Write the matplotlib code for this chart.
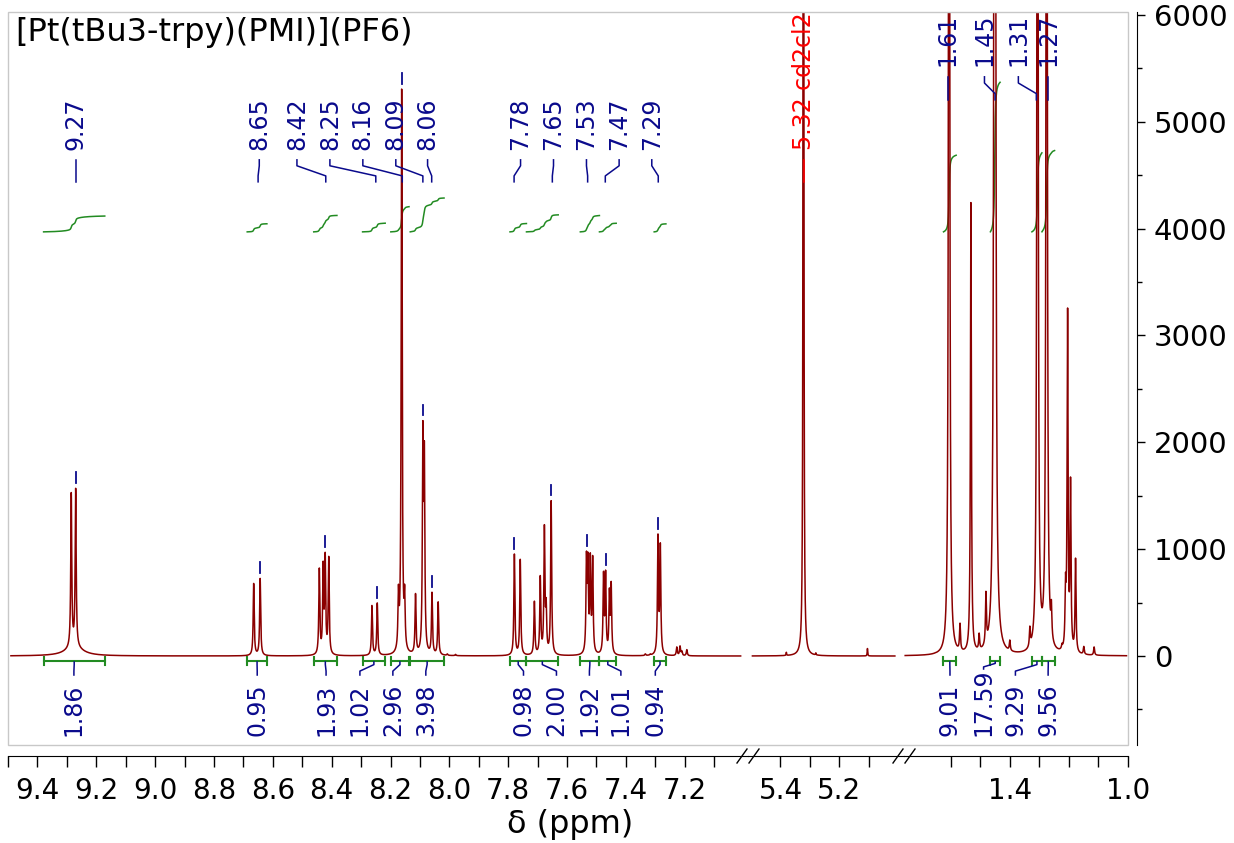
import numpy as np
import matplotlib.pyplot as plt
from matplotlib.lines import Line2D
from matplotlib.patches import Rectangle

# ---------------------------------------------------------------
# peaks: shift (ppm) and apparent height
# ---------------------------------------------------------------
arom_ppm = [9.285, 9.270, 8.665, 8.643, 8.442, 8.429, 8.422, 8.410, 8.263, 8.245,
            8.173, 8.162, 8.152, 8.115, 8.090, 8.085, 8.059, 8.038, 8.007, 7.979,
            7.779, 7.759, 7.711, 7.691, 7.677, 7.671, 7.654,
            7.534, 7.529, 7.521, 7.513, 7.476, 7.469, 7.456, 7.450,
            7.334, 7.317, 7.291, 7.283, 7.227, 7.216, 7.210, 7.193]
arom_height = [1530, 1570, 680, 727, 825, 888, 972, 935, 474, 498,
               670, 5318, 670, 586, 2200, 2010, 598, 508, 20, 15,
               956, 906, 514, 754, 1231, 545, 1455,
               981, 972, 966, 941, 794, 804, 638, 698,
               20, 20, 1143, 1059, 85, 95, 50, 60]

solv_ppm = [5.380, 5.322, 5.280, 5.105]
solv_height = [35, 20000, 30, 70]

alkyl_ppm = [1.654, 1.606, 1.569, 1.532, 1.504, 1.481, 1.451, 1.428, 1.400, 1.332,
             1.306, 1.275, 1.259, 1.223, 1.211, 1.204, 1.194, 1.177, 1.149, 1.114]
alkyl_height = [30, 15000, 308, 4252, 215, 606, 30000, 215, 150, 280,
                15000, 15000, 527, 120, 778, 3265, 1678, 918, 90, 85]

# broad foot under the 9.27 doublet
broad_ppm = [9.275]
broad_height = [80]
broad_hw = [0.035]

# half widths of the lines in each region (ppm)
seg_hw = [0.002, 0.001, 0.0019]

# peak picking labels: value and where the text sits
pick_arom = [9.27, 8.65, 8.42, 8.25, 8.16, 8.09, 8.06, 7.78, 7.65, 7.53, 7.47, 7.29]
pick_arom_text = [9.270, 8.646, 8.518, 8.406, 8.294, 8.182, 8.074,
                  7.758, 7.646, 7.534, 7.423, 7.312]
pick_alkyl = [1.61, 1.45, 1.31, 1.27]
pick_alkyl_text = [1.61, 1.486, 1.371, 1.27]
solvent_pick = 5.32
solvent_name = "5.32 cd2cl2"

# integrals: value, region, text position
int_arom_val = [1.86, 0.95, 1.93, 1.02, 2.96, 3.98, 0.98, 2.00, 1.92, 1.01, 0.94]
int_arom_from = [9.379, 8.687, 8.461, 8.295, 8.199, 8.133, 7.794, 7.738, 7.555, 7.490, 7.304]
int_arom_to = [9.171, 8.620, 8.382, 8.218, 8.137, 8.018, 7.738, 7.630, 7.490, 7.433, 7.264]
int_arom_text = [9.276, 8.653, 8.419, 8.304, 8.192, 8.080, 7.748, 7.636, 7.524, 7.417, 7.300]

int_alkyl_val = [9.01, 17.59, 9.29, 9.56]
int_alkyl_from = [1.625, 1.466, 1.325, 1.291]
int_alkyl_to = [1.582, 1.433, 1.291, 1.248]
int_alkyl_text = [1.603, 1.489, 1.381, 1.270]

title = "[Pt(tBu3-trpy)(PMI)](PF6)"

# ---------------------------------------------------------------
SPEC = '#8b0000'
BLUE = '#0a0a8c'
GREEN = '#228b22'
W, H = 1234, 843


def yv(px):
    # pixel row of the reference -> intensity units (layout helper)
    return (656 - px) / 0.1068


def lor(x, p, h, w):
    return h * w * w / ((x - p) ** 2 + w * w)


def broad(x):
    x = np.asarray(x, float)
    out = np.zeros_like(x)
    for p, h, w in zip(broad_ppm, broad_height, broad_hw):
        out += lor(x, p, h, w)
    return out


def spectrum(ppm, height, hw, x):
    p = np.array(ppm, float)
    h = np.array(height, float)
    A = hw ** 2 / ((p[:, None] - p[None, :]) ** 2 + hw ** 2)
    amp = np.clip(np.linalg.solve(A, h - broad(p)), 0, None)
    return lor(x[:, None], p[None, :], amp[None, :], hw).sum(axis=1) + broad(x)


fig = plt.figure(figsize=(12.34, 8.43), dpi=100)

seg_px = [(8, 748), (748, 904), (904, 1128)]
seg_lim = [(9.50, 6.985), (5.510, 4.981), (1.759, 0.999)]
spec_span = [(9.49, 7.01), (5.495, 5.012), (1.755, 1.004)]
seg_peaks = [(arom_ppm, arom_height), (solv_ppm, solv_height), (alkyl_ppm, alkyl_height)]
seg_major = [np.round(np.arange(7.2, 9.41, 0.2), 1), [5.4, 5.2], [1.4, 1.0]]
seg_minor = [np.round(np.arange(7.1, 9.51, 0.1), 1), [5.3, 5.1], [1.6, 1.5, 1.3, 1.2, 1.1]]
YLIM = (-833, 6028)

axes, xs, ys = [], [], []
for i, ((x0, x1), lim) in enumerate(zip(seg_px, seg_lim)):
    ax = fig.add_axes([x0 / W, 1 - 745 / H, (x1 - x0) / W, 733 / H])
    ax.set_xlim(*lim)
    ax.set_ylim(*YLIM)
    ax.patch.set_visible(False)
    for s in ['top', 'left', 'right']:
        ax.spines[s].set_visible(False)
    ax.spines['bottom'].set_position(('outward', 8))
    ax.set_xticks(seg_major[i])
    ax.set_xticklabels(['%.1f' % t for t in seg_major[i]])
    ax.set_xticks(seg_minor[i], minor=True)
    ax.tick_params(axis='x', which='both', direction='out', length=8, width=1,
                   labelsize=20, pad=7)
    ax.tick_params(axis='y', which='both', left=False, right=False,
                   labelleft=False, labelright=False)

    a, b = spec_span[i]
    x = np.linspace(a, b, int(abs(a - b) / 0.0002))
    y = spectrum(*seg_peaks[i], seg_hw[i], x)
    ax.plot(x, y, color=SPEC, lw=1.1, zorder=3)
    axes.append(ax)
    xs.append(x)
    ys.append(y)

# right intensity axis
axr = axes[-1]
axr.spines['right'].set_visible(True)
axr.spines['right'].set_position(('outward', 6.5))
axr.yaxis.tick_right()
axr.set_yticks(np.arange(0, 6001, 1000))
axr.set_yticks(np.arange(-500, 6000, 1000), minor=True)
axr.tick_params(axis='y', which='major', right=True, labelright=True, direction='out',
                length=6, width=1, labelsize=21, pad=6)
axr.tick_params(axis='y', which='minor', right=True, direction='out', length=3.5, width=1)


def label_peaks(ax, x, y, vals, texts, ytext, ytop, ybot):
    L = ytop - ybot
    for v, t in zip(vals, texts):
        ax.plot([t, t, v, v], [ytop, ytop - 0.27 * L, ybot + 0.27 * L, ybot],
                color=BLUE, lw=1.1, zorder=4)
        ax.text(t, ytext, '%.2f' % v, rotation=90, ha='center', va='bottom',
                color=BLUE, fontsize=17)
        near = np.where(np.abs(x - v) < 0.008)[0]
        j = near[np.argmax(y[near])]
        if y[j] + 150 < YLIM[1] - 100:
            ax.plot([x[j], x[j]], [y[j] + 50, y[j] + 150], color=BLUE, lw=1.3, zorder=4)


def integrals(ax, x, y, vals, froms, tos, texts):
    base, k = yv(232), 79.6
    yb = yv(660.7)
    for v, a, b, t in zip(vals, froms, tos, texts):
        m = (x <= a) & (x >= b)
        c = np.cumsum(y[m])
        c = c / c[-1]
        ax.plot(x[m], base + v * k * c, color=GREEN, lw=1.1, zorder=2)
        ax.plot([a, b], [yb, yb], color=GREEN, lw=1.5)
        for e in (a, b):
            ax.plot([e, e], [yv(656.5), yv(665)], color=GREEN, lw=1.5)
        s = '%.2f' % v
        mid = (a + b) / 2
        y0 = yv(662)
        y1 = yv(675) if len(s) <= 4 else yv(669)
        L = y0 - y1
        ax.plot([mid, mid, t, t], [y0, y0 - 0.2 * L, y1 + 0.3 * L, y1],
                color=BLUE, lw=1.1)
        ax.text(t, yv(736), s, rotation=90, ha='center', va='bottom',
                color=BLUE, fontsize=17)


label_peaks(axes[0], xs[0], ys[0], pick_arom, pick_arom_text, yv(150), yv(160), yv(182))
label_peaks(axes[2], xs[2], ys[2], pick_alkyl, pick_alkyl_text, yv(66), yv(77), yv(100))
integrals(axes[0], xs[0], ys[0], int_arom_val, int_arom_from, int_arom_to, int_arom_text)
integrals(axes[2], xs[2], ys[2], int_alkyl_val, int_alkyl_from, int_alkyl_to, int_alkyl_text)

# solvent label
axes[1].plot([solvent_pick, solvent_pick], [yv(160), yv(182)], color='red', lw=1.1, zorder=4)
axes[1].text(solvent_pick, yv(150), solvent_name, rotation=90, ha='center', va='bottom',
             color='red', fontsize=17)

# frame, breaks, texts
fig.add_artist(Rectangle((8 / W, 1 - 745 / H), 1120 / W, 733 / H, transform=fig.transFigure,
                         fill=False, ec='#c8c8c8', lw=1))
for bx in (748, 904):
    for dx in (-6, 6):
        fig.add_artist(Line2D([(bx + dx - 5) / W, (bx + dx + 5) / W],
                              [1 - 763 / H, 1 - 749 / H], transform=fig.transFigure,
                              color='black', lw=1))

fig.text(15 / W, 1 - 32 / H, title, ha='left', va='center', fontsize=23)
fig.text(570 / W, 1 - 824 / H, 'δ (ppm)', ha='center', va='center', fontsize=23)

fig.savefig('out.png', dpi=100)
